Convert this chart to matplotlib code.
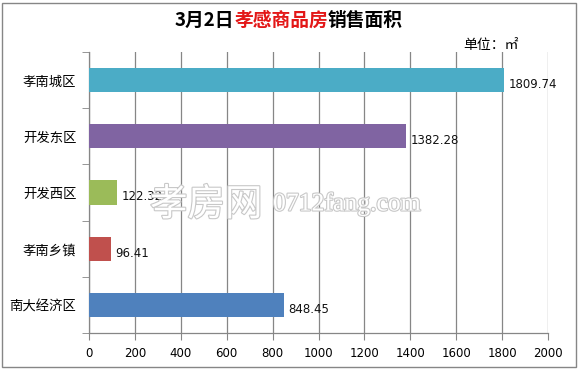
import matplotlib
matplotlib.use("Agg")
import matplotlib.pyplot as plt
from matplotlib.patches import Rectangle
import matplotlib.patheffects as pe

plt.rcParams['font.family'] = ['Noto Sans CJK SC', 'DejaVu Sans']

categories = ["孝南城区", "开发东区", "开发西区", "孝南乡镇", "南大经济区"]
values = [1809.74, 1382.28, 122.32, 96.41, 848.45]
colors = ["#4BACC6", "#8064A2", "#9BBB59", "#C0504D", "#4F81BD"]
xticks = [0, 200, 400, 600, 800, 1000, 1200, 1400, 1600, 1800, 2000]

fig = plt.figure(figsize=(5.79, 3.69), dpi=100)
ax = fig.add_axes([89/579, 1-333/369, (548-89)/579, (333-52)/369])

ypos = list(range(len(categories)))[::-1]
ax.barh(ypos, values, height=0.43, color=colors, zorder=3)
for y, v in zip(ypos, values):
    ax.text(v + 18, y - 0.08, f"{v:.2f}", va="center", ha="left", fontsize=8.5,
            family=['DejaVu Sans'], color="#111111", zorder=5)

ax.set_xlim(0, 2000)
ax.set_ylim(-0.5, len(categories) - 0.5)
ax.set_xticks(xticks)
ax.set_xticklabels([str(t) for t in xticks], fontsize=8.5, family=['DejaVu Sans'])
ax.set_yticks(ypos)
ax.set_yticklabels(categories, fontsize=9.6)
ax.set_yticks([i - 0.5 for i in range(len(categories) + 1)], minor=True)
ax.tick_params(axis='y', which='major', length=0, pad=9)
ax.tick_params(axis='y', which='minor', length=5, color="#868686", direction='out')
ax.tick_params(axis='x', length=5, color="#868686", direction='out', pad=5)
ax.grid(axis='x', color="#868686", linewidth=0.9, zorder=0)
for s in ["top", "right"]:
    ax.spines[s].set_visible(False)
for s in ["left", "bottom"]:
    ax.spines[s].set_color("#868686")
    ax.spines[s].set_linewidth(0.9)

# watermark (outlined text)
outline = [pe.withStroke(linewidth=1.6, foreground="#c8c8c8")]
fig.text(150/579, 1-205/369, "孝房网", fontsize=27, color="white",
         va="center", ha="left", path_effects=outline, zorder=4)
fig.text(273/579, 1-204/369, "0712fang.com", fontsize=18.5, color="white",
         va="center", ha="left", family=['Liberation Serif'], path_effects=outline, zorder=4)

# title in colored pieces
pieces = [("3月2日", "#000000"), ("孝感商品房", "#E31818"), ("销售面积", "#000000")]
fig.canvas.draw()
renderer = fig.canvas.get_renderer()
texts = []
widths = []
for s, c in pieces:
    t = fig.text(0, 1-20/369, s, color=c, fontsize=13.5, fontweight="bold", va="center", ha="left")
    widths.append(t.get_window_extent(renderer).width)
    texts.append(t)
total = sum(widths)
x0 = 289 - total / 2
for t, w in zip(texts, widths):
    t.set_x(x0 / 579)
    x0 += w

fig.text(463/579, 1-45/369, "单位：㎡", fontsize=10, ha="left", va="center")

fig.patches.append(Rectangle((2/579, 2/369), 574/579, 364/369, transform=fig.transFigure,
                             fill=False, edgecolor="#868686", linewidth=1))

fig.savefig("out.png", dpi=100)
